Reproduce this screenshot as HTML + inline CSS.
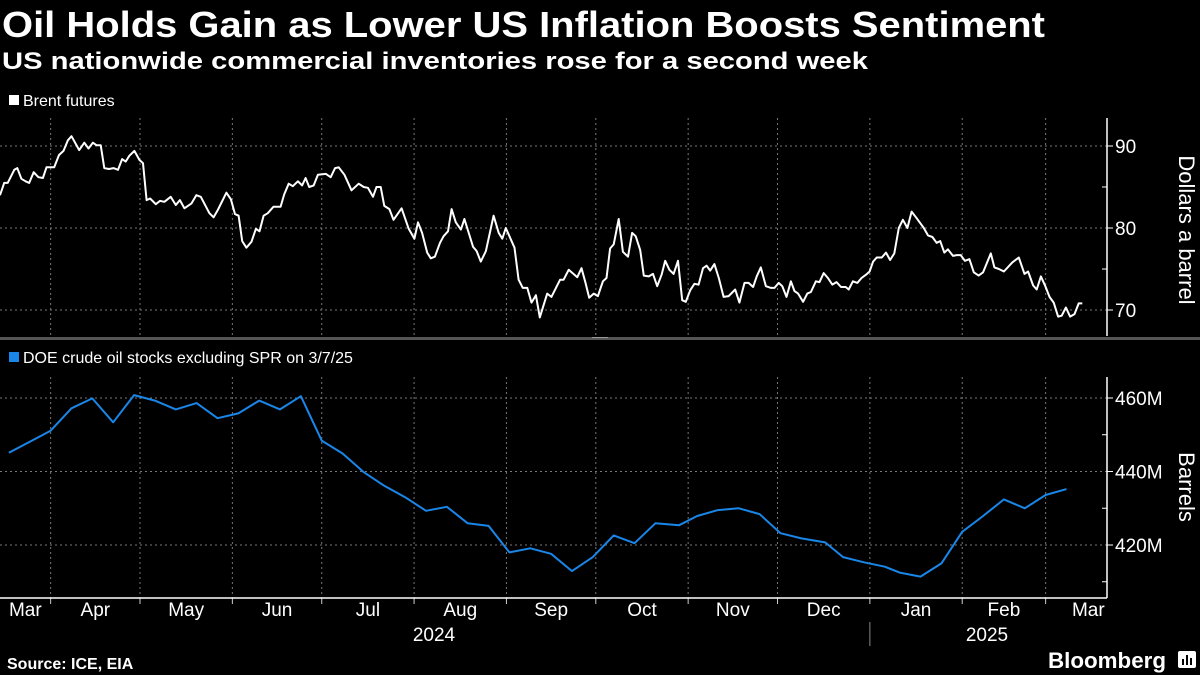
<!DOCTYPE html>
<html><head><meta charset="utf-8"><style>
html,body{margin:0;padding:0;background:#000;}
svg{display:block;font-family:"Liberation Sans",sans-serif;}
</style></head><body>
<svg id="c" width="1200" height="675" viewBox="0 0 1200 675">
<rect width="1200" height="675" fill="#000"/>
<text x="2" y="37" font-size="36" font-weight="bold" fill="#fff" textLength="1043" lengthAdjust="spacingAndGlyphs">Oil Holds Gain as Lower US Inflation Boosts Sentiment</text>
<text x="2" y="69" font-size="24" font-weight="bold" fill="#fff" textLength="866" lengthAdjust="spacingAndGlyphs">US nationwide commercial inventories rose for a second week</text>
<rect x="9" y="95" width="10" height="10" fill="#fff"/>
<text x="23" y="106" font-size="16" fill="#fff">Brent futures</text>
<rect x="9" y="352" width="10" height="10" fill="#1a86e8"/>
<text x="23" y="363" font-size="16" fill="#fff">DOE crude oil stocks excluding SPR on 3/7/25</text>
<rect x="0" y="337" width="1200" height="3" fill="#555"/>
<rect x="592" y="337" width="16" height="1" fill="#999"/>
<text x="1185" y="230" font-size="22" fill="#fff" text-anchor="middle" transform="rotate(90 1185 230)" dominant-baseline="middle">Dollars a barrel</text>
<text x="1185" y="487" font-size="22" fill="#fff" text-anchor="middle" transform="rotate(90 1185 487)" dominant-baseline="middle">Barrels</text>
<text x="7" y="669" font-size="16" font-weight="bold" fill="#fff">Source: ICE, EIA</text>
<text x="1048" y="668" font-size="22" font-weight="bold" fill="#fff" textLength="118" lengthAdjust="spacingAndGlyphs">Bloomberg</text>
<g>
<rect x="1178" y="651" width="18" height="17" rx="2" fill="#fff"/>
<rect x="1182" y="659" width="2" height="6" fill="#000"/><rect x="1186" y="655" width="2" height="10" fill="#000"/><rect x="1190" y="658" width="2" height="7" fill="#000"/>
</g>
<g id="g"></g>
</svg>
<script>
// Brent: day offsets from 2024-03-15, values in $/bbl
const brentDays=[0,1.4,2.6,4.8,5.8,7.2,8.6,9.8,11.3,12.9,14.4,15.6,18.2,19.8,21.3,22.8,24.0,26.6,28.3,29.7,31.2,32.4,33.8,35.0,36.6,38.1,39.6,41.0,42.2,43.4,45.1,46.8,48.0,49.2,50.4,52.3,53.7,55.2,57.3,59.0,60.4,61.9,64.3,65.9,67.4,70.3,71.7,73.1,76.0,77.5,78.9,80.1,81.3,82.7,84.4,85.9,87.1,88.5,89.9,91.8,94.2,95.4,96.9,98.3,100.0,101.4,102.6,103.8,105.3,106.7,109.4,111.0,112.5,113.7,115.6,118.0,120.4,122.1,123.5,125.2,126.4,127.8,129.0,130.7,132.1,134.8,137.2,139.1,140.3,141.7,143.4,144.6,146.0,147.7,148.9,150.4,151.6,153.0,154.7,155.9,158.8,160.0,161.4,163.1,165.7,167.4,168.6,169.8,172.7,174.1,175.5,177.0,178.4,179.9,181.2,183.7,185.1,188.0,189.2,190.9,193.8,195.2,196.4,197.8,199.3,200.7,202.4,203.6,204.8,206.0,207.7,209.1,210.8,212.2,213.4,214.9,216.1,217.8,219.2,220.6,222.1,223.3,224.7,226.1,227.6,229.0,230.2,231.7,233.1,234.5,236.0,237.2,238.4,239.8,241.3,242.9,244.6,246.8,248.2,249.9,251.3,252.8,254.0,255.4,257.1,258.8,260.0,261.4,262.6,264.0,265.5,266.7,267.9,269.6,271.0,272.2,273.9,275.1,276.5,277.9,279.4,280.8,282.3,283.9,284.9,286.3,287.8,289.2,290.7,291.9,293.1,294.3,296.0,297.4,298.8,300.2,301.7,303.1,304.6,306.0,307.5,308.9,310.1,311.5,313.0,314.4,315.6,317.0,318.2,319.9,321.1,322.5,323.9,325.4,326.9,328.5,330.0,332.6,333.8,335.3,337.0,339.8,342.0,343.9,345.1,346.8,348.0,349.4,350.8,352.3,353.7,355.2,356.4,357.8,359.2,360.7,362.1,363.3];
const brentValues=[84.0,85.5,85.5,87.1,87.3,86.0,85.7,85.5,86.8,86.2,86.1,87.4,87.4,88.9,89.4,90.7,91.2,89.5,90.4,89.7,90.4,90.1,90.1,87.3,87.2,87.3,87.1,88.4,88.1,88.8,89.4,88.3,87.9,83.4,83.6,82.9,83.3,83.2,83.8,82.8,83.4,82.4,83.0,84.0,83.8,81.8,81.3,82.2,84.3,83.5,81.7,81.5,78.4,77.6,78.3,79.9,79.6,81.5,81.8,82.6,82.6,84.1,85.4,85.1,85.7,85.2,86.1,85.0,85.2,86.5,86.6,86.2,87.3,87.4,86.5,84.6,85.4,85.0,84.9,83.8,85.0,85.0,82.7,82.3,81.0,82.4,79.9,78.7,80.7,79.4,77.0,76.3,76.5,78.2,79.0,79.6,82.3,80.7,79.8,81.1,77.7,77.2,75.9,77.2,81.5,79.4,78.7,80.0,77.6,73.7,72.7,72.7,70.9,71.8,69.1,72.0,71.6,73.7,73.7,74.9,74.0,75.1,73.5,71.5,72.0,71.7,73.5,73.9,77.5,78.0,81.1,77.1,76.5,79.4,79.0,77.3,74.2,74.1,74.4,72.9,74.3,76.0,74.9,74.4,76.0,71.2,71.0,72.4,73.2,73.1,75.1,75.4,74.8,75.6,73.9,71.6,71.7,72.5,70.9,73.3,73.3,72.8,74.1,75.2,72.9,72.7,72.7,73.3,72.9,71.6,73.5,72.3,72.0,71.0,72.0,72.2,73.5,73.4,74.5,73.9,73.1,73.4,72.8,72.8,72.5,73.5,73.3,73.9,74.3,74.7,75.9,76.4,76.4,77.0,76.1,76.9,80.0,81.0,80.0,82.0,81.3,80.6,80.0,79.1,78.9,78.2,78.4,77.0,77.4,76.6,76.7,76.7,76.0,76.2,74.6,74.2,74.6,76.9,75.2,75.0,74.7,75.8,76.4,74.4,74.7,73.0,72.5,74.1,73.0,71.6,70.9,69.2,69.3,70.3,69.2,69.5,70.8,70.8];
// DOE weekly stocks (million barrels)
const stockDays=[3,10,17,24,31,38,45,52,59,66,73,80,87,94,101,108,115,122,129,136,143,150,157,164,171,178,185,192,199,206,213,220,228,234,241,248,255,262,269,277,283,290,297,302,309,316,323,330,337,344,351,358];
const stockValues=[445.1,448.1,451.1,457.2,459.9,453.4,460.8,459.3,456.9,458.6,454.5,455.8,459.3,456.9,460.5,448.4,444.9,439.9,436.1,433.0,429.3,430.4,425.9,425.2,418.0,419.1,417.6,412.9,416.7,422.6,420.5,425.9,425.4,427.9,429.5,430.0,428.4,423.2,421.8,420.7,416.7,415.3,414.1,412.5,411.4,415.0,423.6,427.9,432.4,430.0,433.6,435.2];
const monthBoundaryDays=[17,47,78,108,139,170,200,231,261,292,323,351];
const monthLabels=["Mar","Apr","May","Jun","Jul","Aug","Sep","Oct","Nov","Dec","Jan","Feb","Mar"];
const topTicks=[90,80,70];
const topTickLabels=["90","80","70"];
const topMinorTicks=[85,75];
const bottomTicks=[460,440,420];
const bottomTickLabels=["460M","440M","420M"];
const bottomMinorTicks=[450,430,410];

const NS="http://www.w3.org/2000/svg";
const g=document.getElementById('g');
const AX=1107, PX=2.979;
const x=d=>d*PX;
const yTop=v=>146+(90-v)*8.2;
const yBot=v=>398+(460-v)*3.675;
function mk(t,a){const e=document.createElementNS(NS,t);for(const k in a)e.setAttribute(k,a[k]);g.appendChild(e);return e;}

monthBoundaryDays.forEach(d=>{
  let e=mk('line',{x1:x(d),x2:x(d),y1:118,y2:336,stroke:'#777','stroke-width':1,'stroke-dasharray':'2,3'});
  
  
  e=mk('line',{x1:x(d),x2:x(d),y1:377,y2:598,stroke:'#777','stroke-width':1,'stroke-dasharray':'2,3'});
  
  
  e=mk('line',{x1:x(d),x2:x(d),y1:598,y2:604,stroke:'#ccc','stroke-width':1});
  
  
});
topTicks.forEach((v,i)=>{
  let e=mk('line',{x1:0,x2:AX,y1:yTop(v),y2:yTop(v),stroke:'#777','stroke-width':1,'stroke-dasharray':'2,3'});
  
  
  e=mk('line',{x1:AX,x2:AX+6,y1:yTop(v),y2:yTop(v),stroke:'#fff','stroke-width':1});
  
  
  e=mk('text',{x:AX+8,y:yTop(v)+7,'font-size':19,fill:'#fff'});
  e.textContent=topTickLabels[i];
  
  
});
topMinorTicks.forEach(v=>{
  const e=mk('line',{x1:AX-5,x2:AX,y1:yTop(v),y2:yTop(v),stroke:'#fff','stroke-width':1});
  
  
});
bottomTicks.forEach((v,i)=>{
  let e=mk('line',{x1:0,x2:AX,y1:yBot(v),y2:yBot(v),stroke:'#777','stroke-width':1,'stroke-dasharray':'2,3'});
  
  
  e=mk('line',{x1:AX,x2:AX+6,y1:yBot(v),y2:yBot(v),stroke:'#fff','stroke-width':1});
  
  
  e=mk('text',{x:AX+8,y:yBot(v)+7,'font-size':19,fill:'#fff'});
  e.textContent=bottomTickLabels[i];
  
  
});
bottomMinorTicks.forEach(v=>{
  const e=mk('line',{x1:AX-5,x2:AX,y1:yBot(v),y2:yBot(v),stroke:'#fff','stroke-width':1});
  
  
});
let a=mk('line',{x1:AX,x2:AX,y1:118,y2:336,stroke:'#fff','stroke-width':1.5});


a=mk('line',{x1:AX,x2:AX,y1:377,y2:598,stroke:'#fff','stroke-width':1.5});


a=mk('line',{x1:0,x2:AX,y1:598,y2:598,stroke:'#fff','stroke-width':1.5});


const bounds=[0].concat(monthBoundaryDays.map(x)).concat([AX+24]);
monthLabels.forEach((m,i)=>{
  const cx=(bounds[i]+bounds[i+1])/2;
  const e=mk('text',{x:cx,y:616,'font-size':19,fill:'#fff','text-anchor':'middle'});
  e.textContent=m;
  
  
});
let yr=mk('text',{x:434,y:641,'font-size':19,fill:'#fff','text-anchor':'middle'});yr.textContent='2024';


yr=mk('text',{x:987,y:641,'font-size':19,fill:'#fff','text-anchor':'middle'});yr.textContent='2025';


yr=mk('line',{x1:x(292),x2:x(292),y1:622,y2:646,stroke:'#888','stroke-width':1});


let p=mk('path',{d:brentDays.map((d,i)=>(i?'L':'M')+x(d).toFixed(1)+' '+yTop(brentValues[i]).toFixed(1)).join(''),fill:'none',stroke:'#fff','stroke-width':2,'stroke-linejoin':'round'});


p=mk('path',{d:stockDays.map((d,i)=>(i?'L':'M')+x(d).toFixed(1)+' '+yBot(stockValues[i]).toFixed(1)).join(''),fill:'none',stroke:'#1a86e8','stroke-width':2,'stroke-linejoin':'round'});


</script>
</body></html>
